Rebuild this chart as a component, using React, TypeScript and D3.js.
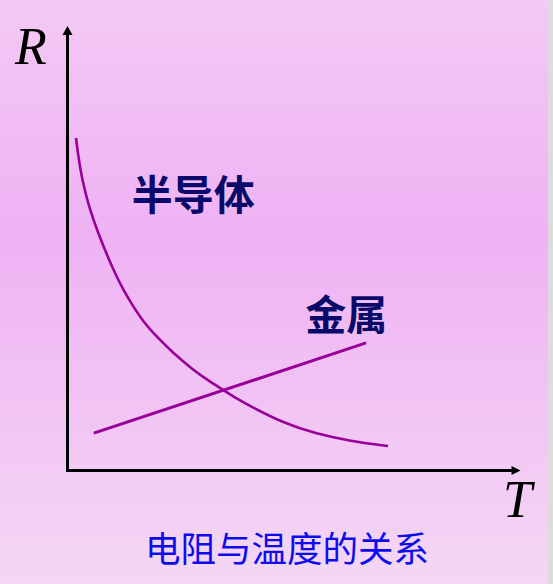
import React, { useEffect, useRef } from 'react';
import * as d3 from 'd3';

// semiconductor: R drops fast as T rises (arbitrary units)
const semiT = [0.188, 0.232, 0.287, 0.364, 0.453, 0.574, 0.717, 1.011, 1.232, 1.453, 1.673, 1.969, 2.336, 2.777, 3.146, 3.439, 3.735, 4.029, 4.764, 5.501, 6.236, 7.075];
const semiR = [7.48, 7.12, 6.76, 6.378, 6.018, 5.636, 5.231, 4.511, 4.061, 3.685, 3.348, 3.01, 2.637, 2.261, 1.998, 1.811, 1.62, 1.451, 1.069, 0.821, 0.664, 0.551];

// metal: R grows linearly with T
const metalT = [0.58, 6.59];
const metalR = [0.84, 2.87];

const labels = [
  { text: '半导体', t: 1.42, r: 6.26 },
  { text: '金属', t: 5.25, r: 3.56 },
];
const title = '电阻与温度的关系';

const W = 553;
const H = 584;

export default function App() {
  const svgRef = useRef<SVGSVGElement>(null);

  useEffect(() => {
    if (!svgRef.current) return;
    const svg = d3.select(svgRef.current);
    svg.selectAll('*').remove();

    const x = d3.scaleLinear().domain([0, 10]).range([67.5, 520.5]);
    const y = d3.scaleLinear().domain([0, 10]).range([470.5, 26]);

    // background
    const defs = svg.append('defs');
    const bg = defs.append('linearGradient')
      .attr('id', 'bg')
      .attr('x1', '0%').attr('y1', '0%')
      .attr('x2', '0%').attr('y2', '100%');
    bg.append('stop').attr('offset', '0%').attr('stop-color', '#f3c9f5');
    bg.append('stop').attr('offset', '40%').attr('stop-color', '#efb2f4');
    bg.append('stop').attr('offset', '100%').attr('stop-color', '#f4d7f4');

    svg.append('rect')
      .attr('width', W).attr('height', H)
      .attr('fill', 'url(#bg)');
    svg.append('rect')
      .attr('x', 548).attr('width', 5).attr('height', H)
      .attr('fill', '#dcdcdc');

    // axes with arrow heads
    const g = svg.append('g');
    g.append('line')
      .attr('x1', x(0)).attr('y1', y(0))
      .attr('x2', x(0)).attr('y2', y(10) + 6)
      .attr('stroke', '#000').attr('stroke-width', 3);
    g.append('line')
      .attr('x1', x(0) - 1.5).attr('y1', y(0))
      .attr('x2', x(10) - 6).attr('y2', y(0))
      .attr('stroke', '#000').attr('stroke-width', 3);

    g.append('path')
      .attr('d', `M${x(0)},${y(10)} L${x(0) - 5},${y(10) + 9} L${x(0) + 5},${y(10) + 9} Z`)
      .attr('fill', '#000');
    g.append('path')
      .attr('d', `M${x(10)},${y(0)} L${x(10) - 9},${y(0) - 4.5} L${x(10) - 9},${y(0) + 4.5} Z`)
      .attr('fill', '#000');

    g.append('text')
      .attr('x', 15).attr('y', 64)
      .attr('font-family', '"Liberation Serif", "Times New Roman", serif')
      .attr('font-style', 'italic')
      .attr('font-size', 52)
      .attr('fill', '#000')
      .text('R');
    g.append('text')
      .attr('x', 503).attr('y', 517)
      .attr('font-family', '"Liberation Serif", "Times New Roman", serif')
      .attr('font-style', 'italic')
      .attr('font-size', 52)
      .attr('fill', '#000')
      .text('T');

    // curves
    const line = d3.line<number>()
      .x((_, i) => x(semiT[i]))
      .y(d => y(d))
      .curve(d3.curveBasis);

    g.append('path')
      .datum(semiR)
      .attr('fill', 'none')
      .attr('stroke', '#990099')
      .attr('stroke-width', 2.6)
      .attr('d', line);

    g.append('path')
      .datum(metalR)
      .attr('fill', 'none')
      .attr('stroke', '#990099')
      .attr('stroke-width', 3)
      .attr('d', d3.line<number>().x((_, i) => x(metalT[i])).y(d => y(d)));

    // labels
    g.selectAll('.lbl')
      .data(labels)
      .enter()
      .append('text')
      .attr('class', 'lbl')
      .attr('x', d => x(d.t))
      .attr('y', d => y(d.r))
      .attr('dominant-baseline', 'central')
      .attr('font-family', '"Noto Sans CJK SC", sans-serif')
      .attr('font-weight', 'bold')
      .attr('font-size', 41)
      .attr('fill', '#0a0a6a')
      .text(d => d.text);

    svg.append('text')
      .attr('x', 145).attr('y', 546)
      .attr('dominant-baseline', 'central')
      .attr('font-family', '"Noto Sans CJK SC", sans-serif')
      .attr('font-size', 35.5)
      .attr('fill', '#0c0cee')
      .text(title);
  }, []);

  return (
    <svg
      ref={svgRef}
      width={W}
      height={H}
      style={{ position: 'absolute', left: 0, top: 0, display: 'block' }}
    />
  );
}
